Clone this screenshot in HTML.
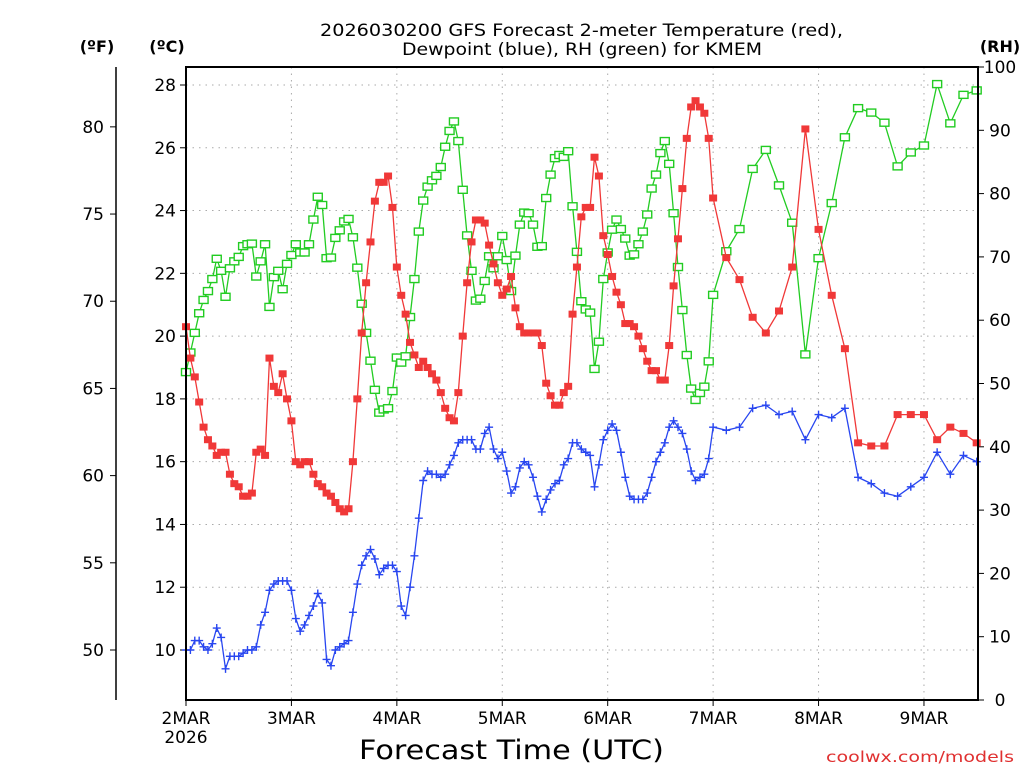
<!DOCTYPE html>
<html><head><meta charset="utf-8"><style>
html,body{margin:0;padding:0;background:#fff;}
svg{display:block;font-family:"DejaVu Sans","Liberation Sans",sans-serif;}
</style></head><body>
<svg id="chart" width="1024" height="768" viewBox="0 0 1024 768">
<text x="320" y="36" font-size="17" textLength="523" lengthAdjust="spacingAndGlyphs">2026030200 GFS Forecast 2-meter Temperature (red),</text>
<text x="402" y="55" font-size="17" textLength="360" lengthAdjust="spacingAndGlyphs">Dewpoint (blue), RH (green) for KMEM</text>
<text x="97" y="52" font-size="16" font-weight="bold" text-anchor="middle">(ºF)</text>
<text x="167" y="52" font-size="16" font-weight="bold" text-anchor="middle">(ºC)</text>
<text x="1000" y="52" font-size="16" font-weight="bold" text-anchor="middle">(RH)</text>
<text x="359" y="759" font-size="27" textLength="305" lengthAdjust="spacingAndGlyphs">Forecast Time (UTC)</text>
<text x="826" y="762" font-size="15" fill="#e03030" textLength="188" lengthAdjust="spacingAndGlyphs">coolwx.com/models</text>
<g id="grid"></g>
<g id="axes"></g>
<g id="series"></g>
<rect x="186" y="67" width="792" height="633" fill="none" stroke="#000" stroke-width="2"/>
</svg>
<script>
const dayLabels = ["2MAR","3MAR","4MAR","5MAR","6MAR","7MAR","8MAR","9MAR"];
const celsiusTicks = [10,12,14,16,18,20,22,24,26,28];
const fahrenheitTicks = [50,55,60,65,70,75,80];
const rhTicks = [0,10,20,30,40,50,60,70,80,90,100];
const tempHourly = [20.3,19.3,18.7,17.9,17.1,16.7,16.5,16.2,16.3,16.3,15.6,15.3,15.2,14.9,14.9,15.0,16.3,16.4,16.2,19.3,18.4,18.2,18.8,18.0,17.3,16.0,15.9,16.0,16.0,15.6,15.3,15.2,15.0,14.9,14.7,14.5,14.4,14.5,16.0,18.0,20.1,21.7,23.0,24.3,24.9,24.9,25.1,24.1,22.2,21.3,
20.7,19.8,19.4,19.0,19.2,19.0,18.8,18.6,18.2,17.7,17.4,17.3,18.2,20.0,21.7,23.0,23.7,23.7,23.6,22.9,22.3,21.7,21.3,21.5,21.9,20.9,20.3,20.1,20.1,20.1,20.1,19.7,18.5,18.1,17.8,17.8,18.2,18.4,20.7,22.2,23.8,24.1,24.1,25.7,25.1,23.2,22.6,
21.9,21.4,21.0,20.4,20.4,20.3,20.0,19.6,19.2,18.9,18.9,18.6,18.6,19.7,21.6,23.1,24.7,26.3,27.3,27.5,27.3,27.1,26.3];
const temp3h = [24.4,22.5,21.8,20.6,20.1,20.8,22.2,26.6,23.4,21.3,19.6,16.6,16.5,16.5,17.5,17.5,17.5,16.7,17.1,16.9,16.6];
const rhHourly = [51.8,54.9,58.0,61.1,63.2,64.6,66.5,69.7,67.8,63.7,68.2,69.3,70.0,71.7,72.0,72.1,66.9,69.3,72.0,62.1,66.8,67.8,64.9,68.9,70.3,72.0,70.7,70.7,72.0,75.9,79.5,78.2,69.8,69.9,73.0,74.2,75.6,76.0,73.1,68.3,62.6,58.0,53.6,49.0,45.4,45.9,46.1,48.8,54.1,
53.3,54.3,60.5,66.5,74.0,78.9,81.1,82.1,82.8,84.2,87.4,89.9,91.4,88.3,80.6,73.4,67.8,63.1,63.4,66.2,70.1,68.2,70.1,73.3,69.5,64.6,70.2,75.1,77.0,76.9,75.1,71.6,71.7,79.3,83.0,85.6,86.1,85.8,86.7,78.0,70.8,63.0,61.7,61.2,52.3,56.6,66.5,70.7,
74.3,75.9,74.4,72.9,70.2,70.4,72.0,74.0,76.7,80.8,83.0,86.4,88.3,84.7,76.9,68.4,61.6,54.5,49.2,47.4,48.5,49.5,53.5];
const rh3h = [64.0,70.9,74.4,83.9,86.9,81.3,75.4,54.6,69.8,78.5,88.9,93.5,92.8,91.2,84.3,86.5,87.6,97.3,91.1,95.6,96.3];
const dewHourly = [10.0,10.0,10.3,10.3,10.1,10.0,10.2,10.7,10.4,9.4,9.8,9.8,9.8,9.9,10.0,10.0,10.1,10.8,11.2,11.9,12.1,12.2,12.2,12.2,11.9,11.0,10.6,10.8,11.1,11.4,11.8,11.5,9.7,9.5,10.0,10.1,10.2,10.3,11.2,12.1,12.7,13.0,13.2,12.9,12.4,12.6,12.7,12.7,12.5,
11.4,11.1,12.0,13.0,14.2,15.4,15.7,15.6,15.6,15.5,15.6,15.9,16.2,16.6,16.7,16.7,16.7,16.4,16.4,16.9,17.1,16.4,16.1,16.3,15.7,15.0,15.2,15.8,16.0,15.9,15.5,14.9,14.4,14.8,15.1,15.3,15.4,15.9,16.1,16.6,16.6,16.4,16.3,16.2,15.2,15.9,16.7,17.0,
17.2,17.0,16.3,15.5,14.9,14.8,14.8,14.8,15.0,15.5,16.0,16.3,16.6,17.1,17.3,17.1,16.9,16.4,15.7,15.4,15.5,15.6,16.1];
const dew3h = [17.1,17.0,17.1,17.7,17.8,17.5,17.6,16.7,17.5,17.4,17.7,15.5,15.3,15.0,14.9,15.2,15.5,16.3,15.6,16.2,16.0];

const NS = "http://www.w3.org/2000/svg";
const X0 = 186, X1 = 978, Y0 = 67, Y1 = 700;
const HMAX = 180.3;
function xScale(h){ return X0 + h * (X1 - X0) / HMAX; }
function yC(t){ return 85 + (28 - t) * (650 - 85) / 18; }
function yF(f){ return yC((f - 32) * 5 / 9); }
function yRH(r){ return Y1 - r * (Y1 - Y0) / 100; }
function hoursFor(hourly, three){
  const hs = [];
  for (let i = 0; i < hourly.length; i++) hs.push(i);
  for (let j = 0; j < three.length; j++) hs.push(hourly.length + 3 * j);
  return hs;
}
function mk(tag, attrs, parent){
  const e = document.createElementNS(NS, tag);
  for (const k in attrs) e.setAttribute(k, attrs[k]);
  parent.appendChild(e);
  return e;
}
const grid = document.getElementById('grid');
const axes = document.getElementById('axes');
const series = document.getElementById('series');

celsiusTicks.forEach(function(t){
  const y = yC(t);
  const g = mk('line', {x1:X0, x2:X1, y1:y, y2:y, stroke:'#aaa', 'stroke-width':1, 'stroke-dasharray':'1.5,5'}, grid);
  
  
  const tk = mk('line', {x1:X0-6, x2:X0, y1:y, y2:y, stroke:'#000', 'stroke-width':1}, axes);
  
  
  const lb = mk('text', {x:X0-10, y:y+6, 'font-size':17, 'text-anchor':'end'}, axes);
  lb.textContent = t;
  
  
});
const fl = mk('line', {x1:116, x2:116, y1:67, y2:700, stroke:'#000', 'stroke-width':1.5}, axes);


fahrenheitTicks.forEach(function(f){
  const y = yF(f);
  const tk = mk('line', {x1:110, x2:116, y1:y, y2:y, stroke:'#000', 'stroke-width':1}, axes);
  
  
  const lb = mk('text', {x:104, y:y+6, 'font-size':17, 'text-anchor':'end'}, axes);
  lb.textContent = f;
  
  
});
rhTicks.forEach(function(r){
  const y = yRH(r);
  const tk = mk('line', {x1:X1, x2:X1+6, y1:y, y2:y, stroke:'#000', 'stroke-width':1}, axes);
  
  
  const lb = mk('text', {x:X1+22, y:y+6, 'font-size':17, 'text-anchor':'middle'}, axes);
  lb.textContent = r;
  
  
});
dayLabels.forEach(function(d, i){
  const x = xScale(24 * i);
  if (i > 0) {
    const g = mk('line', {x1:x, x2:x, y1:Y0, y2:Y1, stroke:'#aaa', 'stroke-width':1, 'stroke-dasharray':'1.5,5'}, grid);
    
    
  }
  const tk = mk('line', {x1:x, x2:x, y1:Y1, y2:Y1+6, stroke:'#000', 'stroke-width':1}, axes);
  
  
  const lb = mk('text', {x:x, y:Y1+24, 'font-size':17, 'text-anchor':'middle'}, axes);
  lb.textContent = d;
  
  
});
const yr = mk('text', {x:xScale(0), y:Y1+43, 'font-size':17, 'text-anchor':'middle'}, axes);
yr.textContent = '2026';



function drawSeries(hourly, three, yfn, color, kind, name){
  const hs = hoursFor(hourly, three);
  const vals = hourly.concat(three);
  const g = mk('g', {}, series);
  
  
  const pts = vals.map(function(v, i){ return xScale(hs[i]).toFixed(1) + ',' + yfn(v).toFixed(1); }).join(' ');
  const pl = mk('polyline', {points:pts, fill:'none', stroke:color, 'stroke-width':1.3}, g);
  
  
  vals.forEach(function(v, i){
    const x = xScale(hs[i]), y = yfn(v);
    let m;
    if (kind === 'fill') {
      m = mk('rect', {x:x-4, y:y-3.5, width:8, height:7, fill:color}, g);
    } else if (kind === 'open') {
      m = mk('rect', {x:x-4.5, y:y-3.5, width:9, height:7, fill:'#fff', stroke:color, 'stroke-width':1.4}, g);
    } else {
      m = mk('path', {d:'M'+(x-4)+','+y+'H'+(x+4)+'M'+x+','+(y-4)+'V'+(y+4), stroke:color, 'stroke-width':1.4, fill:'none'}, g);
    }
    
    
  });
}
drawSeries(rhHourly, rh3h, yRH, '#22cc22', 'open', 'rh');
drawSeries(tempHourly, temp3h, yC, '#f03838', 'fill', 'temperature');
drawSeries(dewHourly, dew3h, yC, '#2846f0', 'plus', 'dewpoint');
</script>
</body></html>
